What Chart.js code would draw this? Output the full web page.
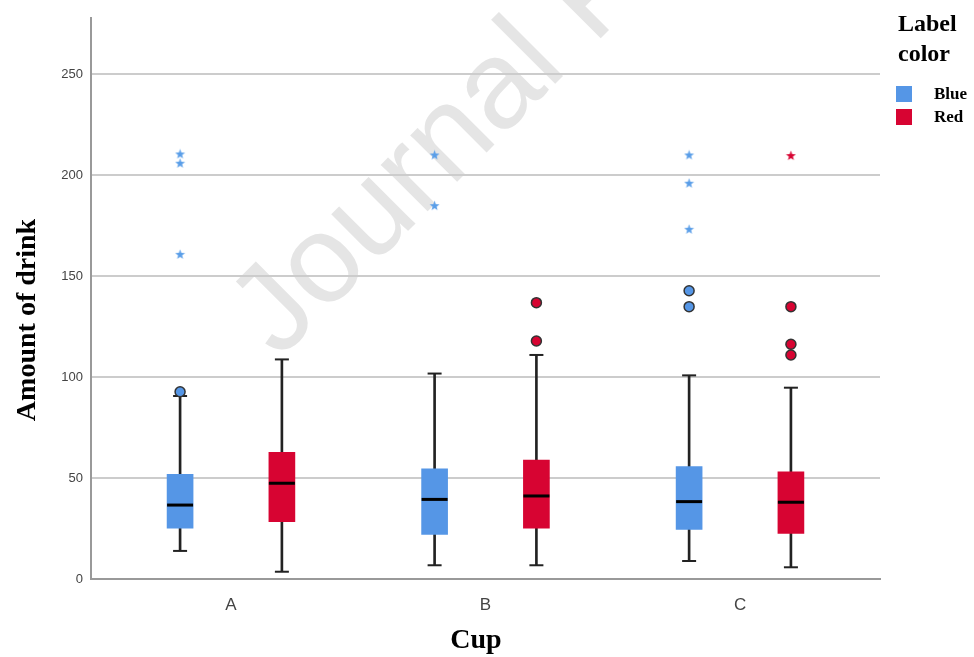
<!DOCTYPE html>
<html>
<head>
<meta charset="utf-8">
<script src="https://cdn.jsdelivr.net/npm/chart.js@4.4.1/dist/chart.umd.min.js"></script>
<style>
  html, body { margin: 0; padding: 0; background: #fff; }
  #wrap { width: 974px; height: 657px; }
</style>
</head>
<body>
<div id="wrap"><canvas id="boxChart"></canvas></div>
<script>
const cups = ["A", "B", "C"];
const yTicks = [0, 50, 100, 150, 200, 250];
const labelColors = ["Blue", "Red"];
const swatches = ["#5596e6", "#d70432"];

// Blue label, one value per cup
const blueMin = [13.9, 6.8, 8.9];
const blueQ1 = [25.1, 22.1, 24.6];
const blueMed = [36.6, 39.4, 38.3];
const blueQ3 = [51.8, 54.5, 55.6];
const blueMax = [90.6, 101.7, 100.8];
const blueOutliers = [[92.7], [], [134.8, 142.7]];
const blueExtremes = [[160.7, 205.8, 210.4], [184.8, 209.9], [173.1, 195.9, 209.9]];

// Red label
const redMin = [3.6, 6.8, 5.8];
const redQ1 = [28.4, 25.1, 22.6];
const redMed = [47.4, 41.1, 38.0];
const redQ3 = [62.7, 58.9, 53.1];
const redMax = [108.7, 110.9, 94.7];
const redOutliers = [[], [117.8, 136.8], [110.9, 116.2, 134.8]];
const redExtremes = [[], [], [209.6]];

function starImage(color) {
  const c = document.createElement("canvas");
  c.width = 11; c.height = 11;
  const g = c.getContext("2d");
  g.fillStyle = color;
  g.beginPath();
  for (let k = 0; k < 10; k++) {
    const r = k % 2 ? 2.1 : 5.2;
    const a = -Math.PI / 2 + k * Math.PI / 5;
    g.lineTo(5.5 + r * Math.cos(a), 5.8 + r * Math.sin(a));
  }
  g.closePath();
  g.fill();
  return c;
}

function spread(lists, off) {
  const pts = [];
  lists.forEach((vals, i) => vals.forEach(v => pts.push({x: i + off, y: v})));
  return pts;
}

function series(s, color, starColor, off) {
  const whisk = cups.map((c, i) => ({x: i + off, y: [s.min[i], s.max[i]]}));
  const box = cups.map((c, i) => ({x: i + off, y: [s.q1[i], s.q3[i]]}));
  const caps = cups.map((c, i) => ({x: i + off, y: s.min[i]}))
    .concat(cups.map((c, i) => ({x: i + off, y: s.max[i]})));
  const med = cups.map((c, i) => ({x: i + off, y: s.med[i]}));
  return [
    {type: "bar", data: whisk, backgroundColor: "#222", barThickness: 2, grouped: false, order: 6},
    {type: "bar", data: box, backgroundColor: color, barThickness: 26, grouped: false, order: 5},
    {type: "scatter", data: caps, pointStyle: "line", radius: 7, borderWidth: 2, borderColor: "#222", order: 4},
    {type: "scatter", data: med, pointStyle: "line", radius: 13, borderWidth: 3, borderColor: "#000", order: 3},
    {type: "scatter", data: spread(s.out, off), pointStyle: "circle", radius: 5,
      backgroundColor: color, borderColor: "#333", borderWidth: 1.5, order: 2},
    {type: "scatter", data: spread(s.ext, off), pointStyle: starImage(starColor), order: 1}
  ];
}

const datasets = series({min: blueMin, q1: blueQ1, med: blueMed, q3: blueQ3, max: blueMax,
    out: blueOutliers, ext: blueExtremes}, swatches[0], "#5a9ee8", -0.2)
  .concat(series({min: redMin, q1: redQ1, med: redMed, q3: redQ3, max: redMax,
    out: redOutliers, ext: redExtremes}, swatches[1], "#d70432", 0.2));

const decorations = {
  id: "decorations",
  beforeDraw(chart) {
    const ctx = chart.ctx;
    ctx.save();
    ctx.fillStyle = "#fff";
    ctx.fillRect(0, 0, chart.width, chart.height);
    ctx.translate(279, 360);
    ctx.rotate(-Math.PI / 4);
    ctx.font = '125px "Liberation Sans", Arial, sans-serif';
    ctx.fillStyle = "#e5e5e5";
    ctx.fillText("Journal Pre-proof", 0, 0);
    ctx.restore();
  },
  afterDraw(chart) {
    const ctx = chart.ctx;
    ctx.save();
    ctx.fillStyle = "#000";
    ctx.font = 'bold 28px "Liberation Serif", "Times New Roman", serif';
    ctx.textAlign = "center";
    ctx.textBaseline = "middle";
    ctx.fillText("Cup", 476, 641);
    ctx.save();
    ctx.translate(28, 320);
    ctx.rotate(-Math.PI / 2);
    ctx.fillText("Amount of drink", 0, 0);
    ctx.restore();

    ctx.textAlign = "left";
    ctx.textBaseline = "alphabetic";
    ctx.font = 'bold 24px "Liberation Serif", "Times New Roman", serif';
    ctx.fillText("Label", 898, 31);
    ctx.fillText("color", 898, 61);
    ctx.font = 'bold 17px "Liberation Serif", "Times New Roman", serif';
    ctx.textBaseline = "middle";
    labelColors.forEach((name, k) => {
      ctx.fillStyle = swatches[k];
      ctx.fillRect(896, 86 + k * 23, 16, 16);
      ctx.fillStyle = "#000";
      ctx.fillText(name, 934, 95 + k * 23);
    });
    ctx.restore();
  }
};

new Chart(document.getElementById("boxChart"), {
  type: "bar",
  data: {datasets: datasets},
  plugins: [decorations],
  options: {
    responsive: true,
    maintainAspectRatio: false,
    animation: false,
    events: [],
    layout: {padding: {top: 18, right: 94, left: 0, bottom: 0}},
    plugins: {legend: {display: false}, tooltip: {enabled: false}},
    scales: {
      x: {
        type: "linear",
        min: -0.55,
        max: 2.55,
        offset: false,
        afterBuildTicks: scale => { scale.ticks = cups.map((c, i) => ({value: i})); },
        afterFit: scale => { scale.height = 78; },
        grid: {display: false, offset: false},
        border: {color: "#999", width: 2},
        ticks: {
          callback: v => cups[v],
          font: {family: '"Liberation Sans", Arial, sans-serif', size: 17},
          color: "#444",
          padding: 8,
          maxRotation: 0
        }
      },
      y: {
        min: 0,
        max: 277.7,
        afterBuildTicks: scale => { scale.ticks = yTicks.map(v => ({value: v})); },
        afterFit: scale => { scale.width = 91; },
        grid: {color: "#cccccc", lineWidth: 2, drawTicks: false},
        border: {color: "#999", width: 2},
        ticks: {
          font: {family: '"Liberation Sans", Arial, sans-serif', size: 13},
          color: "#444",
          padding: 8
        }
      }
    }
  }
});
</script>
</body>
</html>
